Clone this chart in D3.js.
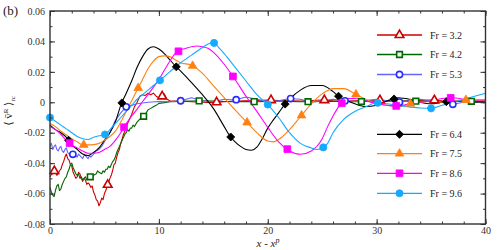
<!DOCTYPE html>
<html>
<head>
<meta charset="utf-8">
<script src="https://cdn.jsdelivr.net/npm/d3@7"></script>
<style>
  body { margin: 0; background: #fff; }
  svg { display: block; font-family: "Liberation Serif", "DejaVu Serif", serif; }
</style>
</head>
<body>
<div id="chart"></div>
<script>
// data: [x - x^p, <v^R>_rc]
var fr32 = [[0,-0.049],[0.125,-0.0475],[0.25,-0.047],[0.375,-0.045],[0.5,-0.046],[0.625,-0.048],[0.75,-0.047],[0.875,-0.045],[1,-0.044],[1.125,-0.041],[1.25,-0.039],[1.375,-0.036],[1.5,-0.034],[1.625,-0.037],[1.75,-0.038],[1.875,-0.041],[2,-0.042],[2.125,-0.046],[2.25,-0.048],[2.375,-0.05],[2.5,-0.049],[2.625,-0.046],[2.75,-0.047],[2.875,-0.05],[3,-0.052],[3.125,-0.05],[3.25,-0.051],[3.375,-0.054],[3.5,-0.053],[3.625,-0.054],[3.75,-0.056],[3.875,-0.055],[4,-0.059],[4.125,-0.061],[4.25,-0.064],[4.375,-0.065],[4.5,-0.068],[4.625,-0.066],[4.75,-0.063],[4.875,-0.064],[5,-0.06],[5.125,-0.058],[5.25,-0.055],[5.375,-0.053],[5.5,-0.05],[5.625,-0.048],[5.75,-0.045],[5.875,-0.041],[6,-0.04],[6.125,-0.036],[6.25,-0.033],[6.375,-0.031],[6.5,-0.027],[6.625,-0.024],[6.75,-0.021],[6.875,-0.019],[7,-0.016],[7.25,-0.012],[7.5,-0.008],[7.75,-0.003],[8,0],[8.25,0.004],[8.5,0.005],[8.75,0.0045],[9,0.006],[9.25,0.005],[9.5,0.006],[9.75,0.004],[10,0.003],[10.25,0.0035],[10.5,0.0055],[10.75,0.002],[11,0.001],[12,0.0008],[13,0.0004],[14,0],[15,-0.0002],[16,0.0004],[17,0.0008],[18,0.001],[19,0.0012],[20,0.0015],[21,0.0012],[22,0.001],[23,0.0008],[24,0.0012],[25,0.0015],[26,0.001],[27,0.0008],[28,0.001],[29,0.0012],[30,0.0015],[31,0.001],[32,0.0008],[33,0.001],[34,0.0012],[35,0.0015],[36,0.001],[37,0.0008],[38,0.001],[39,0.0008],[40,0.0005]];
var fr42 = [[0,-0.056],[0.125,-0.059],[0.25,-0.061],[0.375,-0.062],[0.5,-0.058],[0.625,-0.055],[0.75,-0.054],[0.875,-0.058],[1,-0.057],[1.125,-0.054],[1.25,-0.052],[1.375,-0.05],[1.5,-0.049],[1.625,-0.046],[1.75,-0.044],[1.875,-0.041],[2,-0.04],[2.125,-0.043],[2.25,-0.045],[2.375,-0.047],[2.5,-0.048],[2.625,-0.047],[2.75,-0.05],[2.875,-0.049],[3,-0.051],[3.125,-0.05],[3.25,-0.049],[3.375,-0.051],[3.5,-0.05],[3.625,-0.049],[3.75,-0.049],[4,-0.048],[4.25,-0.047],[4.375,-0.045],[4.5,-0.046],[4.75,-0.047],[4.875,-0.045],[5,-0.046],[5.125,-0.044],[5.25,-0.044],[5.375,-0.042],[5.5,-0.043],[5.625,-0.041],[5.75,-0.039],[5.875,-0.038],[6,-0.036],[6.125,-0.033],[6.25,-0.031],[6.375,-0.029],[6.5,-0.027],[6.625,-0.025],[6.75,-0.023],[6.875,-0.021],[7,-0.02],[7.125,-0.018],[7.25,-0.019],[7.375,-0.017],[7.5,-0.017],[7.625,-0.015],[7.75,-0.016],[8,-0.013],[8.25,-0.011],[8.5,-0.01],[8.75,-0.008],[9,-0.005],[9.25,-0.004],[9.5,-0.003],[9.75,-0.002],[10,-0.0007],[10.5,-0.0002],[11,0.0004],[12,0.0006],[13,0.0008],[14,0.001],[15,0.0008],[16,0.0005],[17,0.0004],[18,0.0005],[19,0.0004],[20,0.0006],[21,0.0008],[22,0.0006],[23,0.0004],[24,0.0004],[25,0.0005],[26,0.0007],[27,0.0006],[28,0.0004],[29,0.0005],[30,0.0007],[31,0.0008],[32,0.0006],[33,0.0008],[34,0.0007],[35,0.0006],[36,0.0005],[37,0.0006],[38,0.0008],[39,0.0006],[40,0.0005]];
var fr53 = [[0,-0.029],[0.125,-0.027],[0.25,-0.031],[0.375,-0.029],[0.5,-0.028],[0.625,-0.031],[0.75,-0.032],[0.875,-0.03],[1,-0.029],[1.125,-0.032],[1.25,-0.033],[1.375,-0.031],[1.5,-0.03],[1.625,-0.033],[1.75,-0.034],[1.875,-0.033],[2,-0.035],[2.125,-0.034],[2.25,-0.033],[2.375,-0.035],[2.5,-0.036],[2.625,-0.034],[2.75,-0.035],[2.875,-0.036],[3,-0.037],[3.125,-0.035],[3.25,-0.035],[3.375,-0.036],[3.5,-0.037],[3.625,-0.035],[3.75,-0.036],[3.875,-0.035],[4,-0.034],[4.25,-0.032],[4.5,-0.031],[4.75,-0.029],[5,-0.026],[5.5,-0.02],[6,-0.012],[6.5,-0.007],[7,-0.003],[8,-0.001],[9,0],[10,0.0005],[11,0.0004],[12,0.001],[13,0.003],[14,0.001],[15,0.0004],[16,0.002],[17,0.0015],[18,0.0035],[19,0.002],[20,0.0005],[21,0.001],[22,0.0025],[23,0.002],[24,0],[25,0.001],[26,0.002],[27,0.001],[28,0.0005],[29,0.001],[30,0.002],[31,0.001],[32,0],[33,0.001],[34,0.002],[35,0.001],[36,0],[37,-0.0013],[38,0],[39,0.001],[40,0.0015]];
var fr64 = [[0,-0.015],[0.5,-0.018],[1,-0.02],[1.5,-0.023],[2,-0.028],[2.5,-0.031],[3,-0.034],[3.5,-0.035],[4,-0.033],[4.5,-0.03],[5,-0.025],[5.5,-0.02],[6,-0.013],[6.5,-0.002],[7,0.006],[7.5,0.014],[8,0.023],[8.5,0.03],[9,0.035],[9.5,0.0365],[10,0.035],[10.5,0.032],[11,0.028],[11.5,0.024],[12,0.0205],[13,0.013],[14,0.005],[15,-0.004],[16,-0.016],[16.5,-0.022],[17,-0.026],[17.5,-0.029],[18,-0.031],[18.5,-0.0315],[19,-0.0295],[19.5,-0.024],[20,-0.017],[20.5,-0.0117],[21,-0.007],[21.5,-0.002],[22,0.002],[23,0.008],[24,0.011],[25,0.011],[26,0.007],[26.5,0.004],[27,0.002],[28,-0.001],[29,-0.0028],[30,-0.002],[31,0.001],[32,0.003],[33,0.002],[34,0],[35,-0.001],[36,0],[37,0.001],[38,0.001],[39,0],[40,0]];
var fr75 = [[0,-0.014],[0.5,-0.016],[1,-0.019],[1.5,-0.0215],[2,-0.024],[2.5,-0.026],[3,-0.028],[3.5,-0.028],[4,-0.0278],[4.5,-0.027],[5,-0.025],[5.5,-0.0225],[6,-0.019],[6.5,-0.013],[7,-0.006],[7.5,0.001],[8,0.008],[8.5,0.015],[9,0.022],[9.5,0.027],[10,0.03],[10.5,0.0305],[11,0.03],[11.5,0.028],[12,0.026],[13,0.0245],[14,0.019],[15,0.011],[16,0.003],[17,-0.005],[18,-0.0125],[19,-0.02],[20,-0.0255],[20.5,-0.026],[21,-0.0245],[22,-0.018],[23,-0.0095],[24,-0.001],[25,0.0055],[26,0.009],[27,0.009],[28,0.0055],[29,0.002],[30,-0.001],[31,-0.002],[32,-0.003],[33,-0.001],[34,0],[35,0.0005],[36,0],[37,0.001],[38,0.0015],[39,0.0015],[40,0.001]];
var fr86 = [[0,-0.016],[0.5,-0.018],[1,-0.021],[1.5,-0.025],[2,-0.028],[2.5,-0.03],[3,-0.032],[3.5,-0.0335],[4,-0.0335],[4.5,-0.033],[5,-0.031],[5.5,-0.029],[6,-0.025],[6.5,-0.02],[7,-0.014],[7.5,-0.009],[8,-0.0045],[8.5,0.0005],[9,0.005],[9.5,0.01],[10,0.015],[10.5,0.021],[11,0.027],[11.5,0.032],[12,0.0345],[12.5,0.0355],[13,0.0365],[13.5,0.037],[14,0.0365],[14.5,0.0355],[15,0.033],[16,0.025],[17,0.015],[18,0.004],[19,-0.006],[20,-0.0165],[21,-0.026],[22,-0.032],[23,-0.0342],[24,-0.032],[25,-0.024],[25.5,-0.016],[26,-0.009],[26.5,-0.003],[27,0.001],[27.5,0.0025],[28,0.0025],[29,0.001],[30,-0.001],[31,-0.002],[32,-0.0025],[33,-0.001],[34,0],[35,0.001],[36,0.0025],[37,0.003],[38,0.002],[39,0.0015],[40,0.0015]];
var fr96 = [[0,-0.01],[0.5,-0.0125],[1,-0.015],[1.5,-0.0175],[2,-0.02],[2.5,-0.0225],[3,-0.024],[3.5,-0.0245],[4,-0.023],[4.5,-0.022],[5,-0.0215],[5.5,-0.018],[6,-0.014],[6.5,-0.01],[7,-0.006],[7.5,-0.002],[8,0.002],[8.5,0.005],[9,0.008],[9.5,0.011],[10,0.0138],[11,0.02],[12,0.026],[13,0.031],[14,0.036],[15,0.0395],[15.5,0.036],[16,0.032],[17,0.023],[18,0.014],[19,0.005],[20,-0.0015],[21,-0.01],[22,-0.02],[23,-0.027],[24,-0.03],[24.5,-0.031],[25,-0.0303],[25.5,-0.027],[26,-0.02],[27,-0.011],[28,-0.006],[29,-0.003],[30,-0.0003],[31,-0.001],[32,-0.002],[33,-0.003],[34,-0.0038],[35,-0.004],[36,-0.002],[37,0],[38,0.002],[39,0.004],[40,0.006]];

// where the symbols sit along each curve
var fr32Markers = [0.4, 5.3, 10.3, 15.3, 20.3, 25.2, 30.3, 35.3];
var fr42Markers = [3.7, 8.6, 13.7, 18.75, 23.7, 28.6, 33.6, 38.7];
var fr53Markers = [2.1, 7.0, 12.0, 17.1, 22.1, 27.1, 32.1, 37.0];
var fr64Markers = [1.7, 6.6, 11.6, 16.6, 21.6, 26.5, 31.6, 36.4];
var fr75Markers = [3.1, 8.1, 13.1, 18.1, 23.1, 28.1, 33.1, 38.2];
var fr86Markers = [1.8, 6.8, 11.8, 16.8, 21.8, 26.8, 31.8, 36.8];
var fr96Markers = [0, 5.05, 10.1, 15.07, 20.0, 25.1, 30.1, 35.0];

var seriesNames = ["Fr = 3.2", "Fr = 4.2", "Fr = 5.3", "Fr = 6.4", "Fr = 7.5", "Fr = 8.6", "Fr = 9.6"];
var xTicks = [0, 10, 20, 30, 40];
var yTicks = [-0.08, -0.06, -0.04, -0.02, 0, 0.02, 0.04, 0.06];

var series = [
    {name: seriesNames[0], data: fr32, marks: fr32Markers, color: "#cc0000", line: "#cc0000", shape: "triangle", open: true, noisy: true},
    {name: seriesNames[1], data: fr42, marks: fr42Markers, color: "#006600", line: "#006600", shape: "square", open: true, noisy: true},
    {name: seriesNames[2], data: fr53, marks: fr53Markers, color: "#2b2bff", line: "#6464ff", shape: "circle", open: true, noisy: true},
    {name: seriesNames[3], data: fr64, marks: fr64Markers, color: "#000000", line: "#000000", shape: "diamond", open: false},
    {name: seriesNames[4], data: fr75, marks: fr75Markers, color: "#ff8010", line: "#ff8010", shape: "triangle", open: false},
    {name: seriesNames[5], data: fr86, marks: fr86Markers, color: "#ff00ff", line: "#ff00ff", shape: "square", open: false},
    {name: seriesNames[6], data: fr96, marks: fr96Markers, color: "#14aaff", line: "#14aaff", shape: "circle", open: false}
];

var width = 497, height = 250;
var svg = d3.select("#chart").append("svg")
    .attr("width", width)
    .attr("height", height);

var x = d3.scaleLinear().domain([0, 40]).range([50, 485.5]);
var y = d3.scaleLinear().domain([-0.08, 0.06]).range([224, 11]);

// symbols
var symbolFor = function(shape, open) {
    if (shape == "triangle") return d3.symbol().type(d3.symbolTriangle).size(open ? 32 : 32)();
    if (shape == "square") return d3.symbol().type(d3.symbolSquare).size(open ? 32 : 46)();
    if (shape == "circle") return d3.symbol().type(d3.symbolCircle).size(open ? 30 : 40)();
    return d3.symbol().type(d3.symbolSquare).size(32)();
}
var rotFor = function(shape) { return shape == "diamond" ? " rotate(45)" : ""; }

// linear lookup of the curve value at a marker position
var valueAt = function(data, xv) {
    for (var i = 1; i < data.length; i++) {
        if (data[i][0] >= xv) {
            var a = data[i-1], b = data[i];
            var t = (xv - a[0]) / (b[0] - a[0]);
            return a[1] + t * (b[1] - a[1]);
        }
    }
    return data[data.length-1][1];
}

var smooth = d3.line()
    .x(function(d) { return x(d[0]); })
    .y(function(d) { return y(d[1]); })
    .curve(d3.curveMonotoneX);
var jagged = d3.line()
    .x(function(d) { return x(d[0]); })
    .y(function(d) { return y(d[1]); });

var plot = svg.append("g");
series.forEach(function(s) {
    plot.append("path")
        .datum(s.data)
        .attr("fill", "none")
        .attr("stroke", s.line)
        .attr("stroke-width", 1.1)
        .attr("stroke-linejoin", "round")
        .attr("d", s.noisy ? jagged : smooth);
});
series.forEach(function(s) {
    plot.append("g").selectAll("path")
        .data(s.marks)
        .join("path")
        .attr("d", symbolFor(s.shape, s.open))
        .attr("transform", function(d) { return "translate(" + x(d) + "," + y(valueAt(s.data, d)) + ")" + rotFor(s.shape); })
        .attr("fill", s.open ? "#fff" : s.color)
        .attr("stroke", s.color)
        .attr("stroke-width", s.open ? 1.6 : 0.8);
});

// axes: ticks inward on all four sides
var fmtY = function(d) { return d == 0 ? "0" : d.toFixed(2); };
var minorX = d3.range(0, 41, 2), minorY = d3.range(-0.08, 0.0601, 0.01);
var axisStyle = function(g) {
    g.select(".domain").remove();
    g.selectAll("line").attr("stroke", "#333").attr("stroke-width", 1);
    g.selectAll("text").attr("fill", "#333").style("font-size", "10px").style("font-family", "Liberation Serif, serif");
}
svg.append("g").attr("transform", "translate(0,224)")
    .call(d3.axisBottom(x).tickValues(minorX).tickSizeInner(-2.5).tickSizeOuter(0).tickFormat("")).call(axisStyle);
svg.append("g").attr("transform", "translate(0,224)")
    .call(d3.axisBottom(x).tickValues(xTicks).tickSizeInner(-5).tickSizeOuter(0).tickPadding(2.5).tickFormat(d3.format("d"))).call(axisStyle);
svg.append("g").attr("transform", "translate(0,11)")
    .call(d3.axisTop(x).tickValues(minorX).tickSizeInner(-2.5).tickSizeOuter(0).tickFormat("")).call(axisStyle);
svg.append("g").attr("transform", "translate(0,11)")
    .call(d3.axisTop(x).tickValues(xTicks).tickSizeInner(-5).tickSizeOuter(0).tickFormat("")).call(axisStyle);
svg.append("g").attr("transform", "translate(50,0)")
    .call(d3.axisLeft(y).tickValues(minorY).tickSizeInner(-2.5).tickSizeOuter(0).tickFormat("")).call(axisStyle);
svg.append("g").attr("transform", "translate(50,0)")
    .call(d3.axisLeft(y).tickValues(yTicks).tickSizeInner(-5).tickSizeOuter(0).tickPadding(5).tickFormat(fmtY)).call(axisStyle);
svg.append("g").attr("transform", "translate(485.5,0)")
    .call(d3.axisRight(y).tickValues(minorY).tickSizeInner(-2.5).tickSizeOuter(0).tickFormat("")).call(axisStyle);
svg.append("g").attr("transform", "translate(485.5,0)")
    .call(d3.axisRight(y).tickValues(yTicks).tickSizeInner(-5).tickSizeOuter(0).tickFormat("")).call(axisStyle);

svg.append("rect")
    .attr("x", 50).attr("y", 11)
    .attr("width", 435.5).attr("height", 213)
    .attr("fill", "none")
    .attr("stroke", "#333")
    .attr("stroke-width", 1.4);

// legend
var legendY = [35, 54.5, 74.5, 134.3, 153.6, 173.3, 193.3];
var legend = svg.append("g").selectAll("g")
    .data(series)
    .join("g")
    .attr("transform", function(d, i) { return "translate(0," + legendY[i] + ")"; });
legend.append("line")
    .attr("x1", 377).attr("x2", 422)
    .attr("stroke", function(d) { return d.line; })
    .attr("stroke-width", 1.3);
legend.append("path")
    .attr("d", function(d) { return symbolFor(d.shape, d.open); })
    .attr("transform", function(d) { return "translate(399.5,0)" + rotFor(d.shape); })
    .attr("fill", function(d) { return d.open ? "#fff" : d.color; })
    .attr("stroke", function(d) { return d.color; })
    .attr("stroke-width", function(d) { return d.open ? 1.6 : 0.8; });
legend.append("text")
    .attr("x", 430).attr("y", 3.5)
    .style("font-size", "10px")
    .attr("fill", "#222")
    .text(function(d) { return d.name; });

// labels
svg.append("text")
    .attr("x", 3).attr("y", 15)
    .style("font-size", "13px")
    .attr("fill", "#222")
    .text("(b)");

var xl = svg.append("text")
    .attr("x", 268).attr("y", 246.5)
    .attr("text-anchor", "middle")
    .style("font-size", "11px")
    .style("font-style", "italic")
    .attr("fill", "#222");
xl.append("tspan").text("x - x");
xl.append("tspan").attr("dy", -4).style("font-size", "8px").text("p");

var yl = svg.append("text")
    .attr("transform", "translate(12,111) rotate(-90)")
    .attr("text-anchor", "middle")
    .style("font-size", "11px")
    .attr("fill", "#222");
yl.append("tspan").text("\u27E8 ");
yl.append("tspan").text("v\u0304");
yl.append("tspan").attr("dy", -4).style("font-size", "7px").text("R");
yl.append("tspan").attr("dy", 4).text(" \u27E9");
yl.append("tspan").attr("dy", 3).style("font-size", "7px").text("rc");
</script>
</body>
</html>
